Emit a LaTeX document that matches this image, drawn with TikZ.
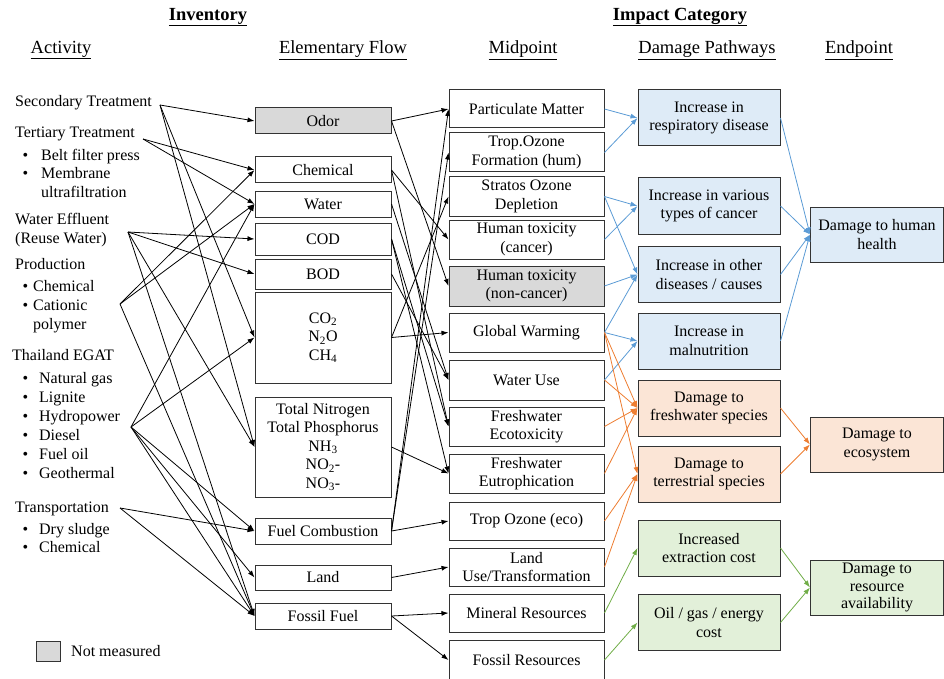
\documentclass[tikz,border=0pt]{standalone}
\usepackage{fontspec}
\setmainfont{Liberation Serif}
\usetikzlibrary{arrows.meta}
\definecolor{notm}{HTML}{D9D9D9}
\definecolor{hblue}{HTML}{DEEBF7}
\definecolor{horange}{HTML}{FBE5D6}
\definecolor{hgreen}{HTML}{E2F0D9}
\definecolor{lblue}{HTML}{5B9BD5}
\definecolor{lorange}{HTML}{ED7D31}
\definecolor{lgreen}{HTML}{70AD47}
\newcommand{\bodyfont}{\fontsize{16}{18.5}\selectfont}
\newcommand{\hdrfont}{\fontsize{18.5}{21}\selectfont}
\newcommand{\itm}[1]{\llap{\textbullet\hspace{#1pt}}}
\begin{document}
\begin{tikzpicture}
  [x=1pt,y=-1pt,every node/.style={font=\bodyfont,inner sep=1pt}]
  \tikzstyle{hdr} = [font=\hdrfont]
  \tikzstyle{act} = [anchor=west,inner sep=0pt,text height=11pt,text depth=3.5pt]
  \tikzstyle{box} = [draw=black!80,line width=1pt,align=center]
  \tikzstyle{flow} = [box,minimum width=136pt]
  \tikzstyle{mid} = [box,minimum width=155pt]
  \tikzstyle{path} = [box,minimum width=142pt,minimum height=56pt]
  \tikzstyle{endp} = [box,minimum width=133pt,minimum height=55pt]
  \tikzstyle{arr} = [-{Latex[length=7pt,width=5pt]},line width=0.8pt]
  \useasboundingbox (0,0) rectangle (944,679);

  \node[hdr] (inv) at (208,17) {\underline{\textbf{Inventory}}};
  \node[hdr] (imp) at (680,17) {\underline{\textbf{Impact Category}}};
  \node[hdr] (hact) at (61,50) {\underline{Activity}};
  \node[hdr] (hflow) at (343,50) {\underline{Elementary Flow}};
  \node[hdr] (hmid) at (523,50) {\underline{Midpoint}};
  \node[hdr] (hpath) at (707,50) {\underline{Damage Pathways}};
  \node[hdr] (hend) at (859,50) {\underline{Endpoint}};

  \foreach \x/\y/\txt [count=\i] in {15/103/Secondary Treatment,15/134/Tertiary Treatment,
      41/157/\itm{13}Belt filter press,41/175/\itm{13}Membrane,41/194/ultrafiltration,
      15/221/Water Effluent,15/240/(Reuse Water),15/266/Production,
      33/288/\itm{5}Chemical,33/307/\itm{5}Cationic,33/326/polymer,12/357/Thailand EGAT,
      39/380/\itm{11}Natural gas,39/399/\itm{11}Lignite,39/418/\itm{11}Hydropower,
      39/437/\itm{11}Diesel,39/456/\itm{11}Fuel oil,39/475/\itm{11}Geothermal,
      15/509/Transportation,39/531/\itm{11}Dry sludge,39/549/\itm{11}Chemical}
    \node[act] (act\i) at (\x,\y) {\txt};

  \coordinate (secP) at (160,105);
  \coordinate (terP) at (143,139);
  \coordinate (effP) at (128,232);
  \coordinate (prodP) at (120,304);
  \coordinate (egatP) at (131,427);
  \coordinate (transP) at (120,508);

  \node[flow,fill=notm,minimum height=26pt] (odor) at (323,121) {Odor};
  \node[flow,minimum height=26pt] (chem) at (323,170) {Chemical};
  \node[flow,minimum height=26pt] (water) at (323,204) {Water};
  \node[flow,minimum height=32pt] (cod) at (323,239) {COD};
  \node[flow,minimum height=30pt] (bod) at (323,274) {BOD};
  \node[flow,minimum height=91pt] (ghg) at (323,337.5) {CO\textsubscript{2}\\N\textsubscript{2}O\\CH\textsubscript{4}};
  \node[flow,minimum height=100pt] (nut) at (323,447) {Total Nitrogen\\Total Phosphorus\\NH\textsubscript{3}\\NO\textsubscript{2}-\\NO\textsubscript{3}-};
  \node[flow,minimum height=26pt] (fuel) at (323,531) {Fuel Combustion};
  \node[flow,minimum height=25pt] (land) at (323,577.5) {Land};
  \node[flow,minimum height=26pt] (fossil) at (323,616) {Fossil Fuel};

  \node[mid,minimum height=38pt] (pm) at (526.5,109) {Particulate Matter};
  \node[mid,minimum height=39pt] (tozh) at (526.5,152.5) {Trop.Ozone\\Formation (hum)};
  \node[mid,minimum height=39pt] (strat) at (526.5,196.5) {Stratos Ozone\\Depletion};
  \node[mid,minimum height=39pt] (htc) at (526.5,239.5) {Human toxicity\\(cancer)};
  \node[mid,fill=notm,minimum height=40pt] (htn) at (526.5,286) {Human toxicity\\(non-cancer)};
  \node[mid,minimum height=39pt] (gw) at (526.5,332.5) {Global Warming};
  \node[mid,minimum height=40pt] (wu) at (526.5,380) {Water Use};
  \node[mid,minimum height=39pt] (fwet) at (526.5,426.5) {Freshwater\\Ecotoxicity};
  \node[mid,minimum height=39pt] (fweu) at (526.5,473.5) {Freshwater\\Eutrophication};
  \node[mid,minimum height=38pt] (toze) at (526.5,521) {Trop Ozone (eco)};
  \node[mid,minimum height=38pt] (luse) at (526.5,567) {Land\\Use/Transformation};
  \node[mid,minimum height=38pt] (mres) at (526.5,613) {Mineral Resources};
  \node[mid,minimum height=40pt] (fres) at (526.5,660) {Fossil Resources};

  \node[path,fill=hblue] (resp) at (709,118) {Increase in\\respiratory disease};
  \node[path,fill=hblue] (canc) at (709,206) {Increase in various\\types of cancer};
  \node[path,fill=hblue] (oth) at (709,274.5) {Increase in other\\diseases / causes};
  \node[path,fill=hblue] (maln) at (709,341) {Increase in\\malnutrition};
  \node[path,fill=horange] (fws) at (709,408) {Damage to\\freshwater species};
  \node[path,fill=horange] (terr) at (709,474) {Damage to\\terrestrial species};
  \node[path,fill=hgreen] (extr) at (709,548) {Increased\\extraction cost};
  \node[path,fill=hgreen] (cost) at (709,622.5) {Oil / gas / energy\\cost};

  \node[endp,fill=hblue] (hh) at (877,234.5) {Damage to human\\health};
  \node[endp,fill=horange] (eco) at (877,444.5) {Damage to\\ecosystem};
  \node[endp,fill=hgreen,font=\fontsize{16}{17.5}\selectfont] (res) at (877,587.5) {Damage to\\resource\\availability};

  \node[box,fill=notm,minimum width=24pt,minimum height=20pt] (key) at (48,651) {};
  \node[anchor=west] (keytxt) at (70,651) {Not measured};

  \foreach \source/\dest in {secP/odor.west,secP/ghg.west,secP/nut.west,
      terP/chem.west,terP/water.west,
      effP/cod.west,effP/bod.west,effP/nut.west,effP/fossil.west,
      prodP/chem.west,prodP/water.west,prodP/fossil.west,
      egatP/water.west,egatP/ghg.west,egatP/fuel.west,egatP/land.west,egatP/fossil.west,
      transP/fuel.west,transP/fossil.west}
    \draw[arr] (\source) -- (\dest);

  \foreach \source/\dest in {odor/pm,odor/htn,chem/htc,chem/fwet,water/wu,
      cod/fwet,cod/fweu,bod/wu,ghg/strat,ghg/gw,nut/fweu,
      fuel/pm,fuel/tozh,fuel/toze,land/luse,fossil/mres,fossil/fres}
    \draw[arr] (\source.east) -- (\dest.west);

  \foreach \source/\dest in {pm/resp,tozh/resp,strat/canc,strat/oth,htc/canc,htn/oth,
      gw/oth,gw/maln,wu/maln,resp/hh,canc/hh,oth/hh,maln/hh}
    \draw[arr,lblue] (\source.east) -- (\dest.west);

  \foreach \source/\dest in {gw/fws,gw/terr,wu/fws,fwet/fws,fweu/fws,toze/terr,luse/terr,
      fws/eco,terr/eco}
    \draw[arr,lorange] (\source.east) -- (\dest.west);

  \foreach \source/\dest in {mres/extr,fres/cost,extr/res,cost/res}
    \draw[arr,lgreen] (\source.east) -- (\dest.west);

\end{tikzpicture}
\end{document}
